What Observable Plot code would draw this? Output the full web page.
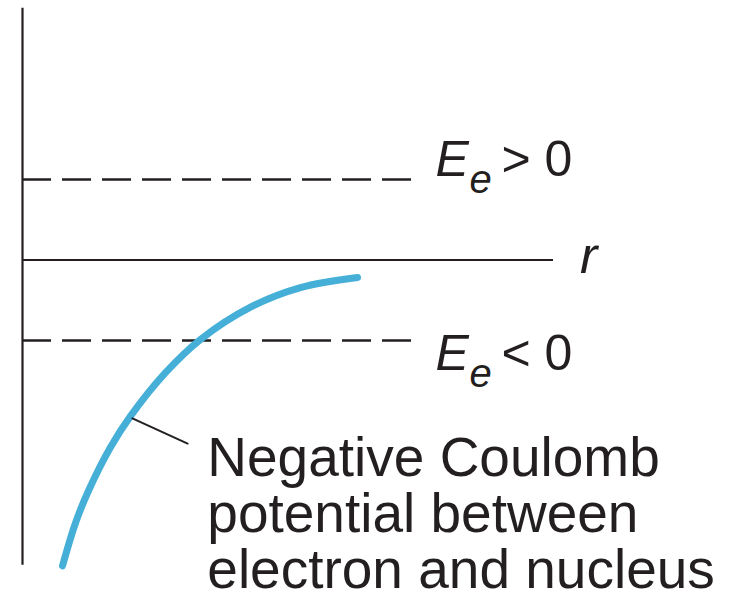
<!DOCTYPE html>
<html>
<head>
<meta charset="utf-8">
<script src="https://cdn.jsdelivr.net/npm/d3@7"></script>
<script src="https://cdn.jsdelivr.net/npm/@observablehq/plot@0.6"></script>
<style>
  html, body { margin: 0; padding: 0; background: #fff; }
  #chart svg { display: block; }
</style>
</head>
<body>
<div id="chart"></div>
<script>
// Potential energy curve: r (radial distance) and E (energy), arbitrary units
const curveR = [0.753, 0.998, 1.243, 1.657, 2.034, 2.693, 3.352, 4.294, 5.235, 6.309];
const curveE = [-5.70, -4.90, -4.30, -3.49, -2.91, -2.10, -1.48, -0.878, -0.514, -0.326];

// Electron energy levels (one above, one below zero) and their labels
const levelE = [1.5, -1.5];
const levelSign = [">", "<"];
const labelE = [1.556, -2.059];

// Axis extents
const rAxisEnd = 10;
const eAxisTop = 4.69;
const eAxisBottom = -5.69;
const levelEnd = 7.38;

// Callout leader from the curve to its note
const leaderR = [2.07, 3.11];
const leaderE = [-2.95, -3.42];
const noteLines = ["Negative Coulomb", "potential between", "electron and nucleus"];

const ink = "#231f20";
const blue = "#45afd7";

const curve = curveR.map((r, i) => ({r, E: curveE[i]}));
const levels = levelE.map((E, i) => ({E, sign: levelSign[i], labelE: labelE[i]}));
const leader = leaderR.map((r, i) => ({r, E: leaderE[i]}));
const notes = noteLines.map((t, i) => ({t, r: 3.48, E: -4.034 - i * 1.043}));

const chart = Plot.plot({
  width: 734,
  height: 603,
  margin: 0,
  x: {domain: [0, 10], range: [22, 553], axis: null},
  y: {domain: [-1.5, 1.5], range: [340, 179], axis: null},
  style: {fontFamily: "'Liberation Sans', Arial, Helvetica, sans-serif", background: "#fff"},
  marks: [
    // energy axis
    Plot.ruleX([0], {y1: eAxisBottom, y2: eAxisTop, stroke: ink, strokeWidth: 2.2}),
    // r axis
    Plot.ruleY([0], {x1: 0, x2: rAxisEnd, stroke: ink, strokeWidth: 2}),
    // energy levels
    Plot.ruleY(levels, {y: "E", x1: 0, x2: levelEnd, stroke: ink, strokeWidth: 2.4, strokeDasharray: "29,11"}),
    // Coulomb potential
    Plot.line(curve, {x: "r", y: "E", stroke: blue, strokeWidth: 7, curve: "catmull-rom"}),
    // leader line
    Plot.line(leader, {x: "r", y: "E", stroke: ink, strokeWidth: 2}),
    // note
    Plot.text(notes, {x: "r", y: "E", text: "t", textAnchor: "start", lineAnchor: "bottom", fontSize: 55, fill: ink}),
    // level labels: E, subscript e, relation
    Plot.text(levels, {x: 7.78, y: "labelE", text: () => "E", textAnchor: "start", lineAnchor: "bottom", fontSize: 50, fontStyle: "italic", fill: ink}),
    Plot.text(levels, {x: 8.42, y: d => d.labelE - 0.3, text: () => "e", textAnchor: "start", lineAnchor: "bottom", fontSize: 40, fontStyle: "italic", fill: ink}),
    Plot.text(levels, {x: 9.02, y: "labelE", text: d => `${d.sign} 0`, textAnchor: "start", lineAnchor: "bottom", fontSize: 50, fill: ink}),
    // r label
    Plot.text(["r"], {x: 10.5, y: -0.24, text: d => d, textAnchor: "start", lineAnchor: "bottom", fontSize: 52, fontStyle: "italic", fill: ink})
  ]
});

document.getElementById("chart").appendChild(chart);
</script>
</body>
</html>
